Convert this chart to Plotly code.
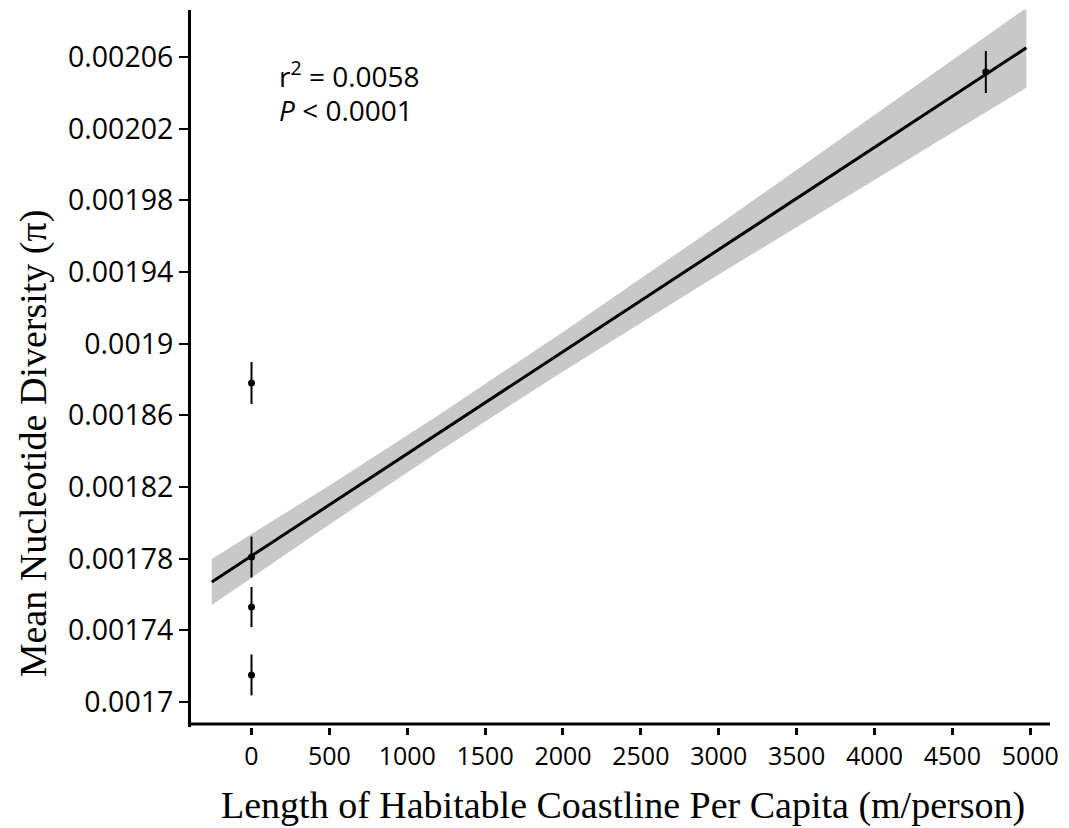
import plotly.graph_objects as go

# Sampled populations: coastline per capita vs. mean nucleotide diversity
coast_len = [0, 0, 0, 0, 4715]
mean_pi = [0.0018780, 0.0017809, 0.0017530, 0.0017151, 0.0020516]
pi_err = [0.0000117, 0.0000114, 0.0000112, 0.0000114, 0.0000117]

# Regression line end points
fit_x = [-255, 4975]
fit_y = [0.0017670, 0.0020651]

# Confidence band around the regression line
band_x = [-255, 500, 1200, 2000, 3000, 4000, 4975]
band_upper = [0.0017798, 0.0018209, 0.0018601, 0.0019065, 0.0019664, 0.0020274, 0.0020874]
band_lower = [0.0017542, 0.0017991, 0.0018397, 0.0018845, 0.0019386, 0.0019916, 0.0020428]

y_ticks = [0.0017, 0.00174, 0.00178, 0.00182, 0.00186, 0.0019, 0.00194, 0.00198, 0.00202, 0.00206]
y_ticktext = ["0.0017", "0.00174", "0.00178", "0.00182", "0.00186", "0.0019",
              "0.00194", "0.00198", "0.00202", "0.00206"]
x_ticks = [0, 500, 1000, 1500, 2000, 2500, 3000, 3500, 4000, 4500, 5000]

W, H = 1069, 828
L, R, T, B = 191, 12, 10, 101
pw, ph = W - L - R, H - T - B


def px(x):
    return (x - L) / pw


def py(y):
    return (H - B - y) / ph


ytick_font = dict(family="Open Sans", size=28.5, color="black")
xtick_font = dict(family="Open Sans", size=25, color="black")
note_font = dict(family="Open Sans", size=28, color="black")
title_font = dict(family="Liberation Serif", size=38, color="black")

fig = go.Figure()

fig.add_trace(go.Scatter(
    x=band_x + band_x[::-1],
    y=band_upper + band_lower[::-1],
    fill="toself", fillcolor="rgb(200,200,200)",
    line=dict(width=0), mode="lines", hoverinfo="skip", showlegend=False,
))

fig.add_trace(go.Scatter(
    x=fit_x, y=fit_y, mode="lines",
    line=dict(color="black", width=3), showlegend=False,
))

fig.add_trace(go.Scatter(
    x=coast_len, y=mean_pi, mode="markers",
    marker=dict(color="black", size=7),
    error_y=dict(type="data", array=pi_err, visible=True,
                 color="black", thickness=2, width=0),
    showlegend=False,
))

fig.update_xaxes(
    range=[-388.5, 5127], tickvals=x_ticks, ticks="outside", ticklen=7,
    tickwidth=3, tickcolor="black", showline=False, showgrid=False,
    zeroline=False, tickfont=xtick_font, ticklabeloverflow="allow",
)
fig.update_yaxes(
    range=[0.00168605, 0.00208621], tickvals=y_ticks, ticktext=y_ticktext,
    ticks="outside", ticklen=9, tickwidth=1.5, tickcolor="black",
    showline=True, linewidth=3, linecolor="black", showgrid=False,
    zeroline=False, tickfont=ytick_font, ticklabeloverflow="allow",
)

# Horizontal axis line sits slightly above the tick marks
fig.add_shape(type="line", xref="paper", yref="paper",
              x0=px(189), x1=1.0, y0=py(724), y1=py(724),
              line=dict(color="black", width=3))

fig.add_annotation(x=px(278), y=py(75), xref="paper", yref="paper",
                   text="r<sup>2</sup> = 0.0058", showarrow=False,
                   xanchor="left", yanchor="middle", font=note_font)
fig.add_annotation(x=px(278), y=py(110), xref="paper", yref="paper",
                   text="<i>P</i> < 0.0001", showarrow=False,
                   xanchor="left", yanchor="middle", font=note_font)

fig.add_annotation(x=px(32), y=py(443), xref="paper", yref="paper",
                   text="Mean Nucleotide Diversity (π)", textangle=-90,
                   showarrow=False, xanchor="center", yanchor="middle",
                   font=title_font)
fig.add_annotation(x=px(627), y=py(805), xref="paper", yref="paper",
                   text="Length of Habitable Coastline Per Capita (m/person)",
                   showarrow=False, xanchor="center", yanchor="middle",
                   font=title_font)

fig.update_layout(
    width=W, height=H,
    margin=dict(l=L, r=R, t=T, b=B, pad=0),
    paper_bgcolor="white", plot_bgcolor="white",
)

fig.write_html("out.html")
